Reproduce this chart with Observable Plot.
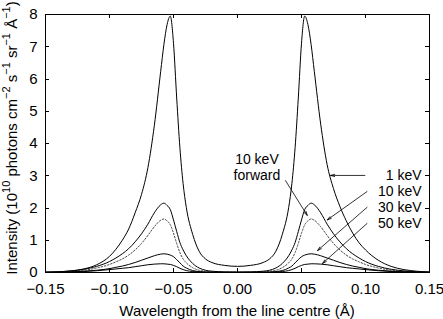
<!DOCTYPE html>
<html><head><meta charset="utf-8">
<script src="https://cdn.jsdelivr.net/npm/d3@7"></script>
<script src="https://cdn.jsdelivr.net/npm/@observablehq/plot@0.6"></script>
<style>body{margin:0;background:#fff}</style>
</head><body><div id="chart"></div>
<script>
const wavelength = [-0.15,-0.14,-0.13,-0.12,-0.11,-0.10,-0.095,-0.09,-0.085,-0.08,-0.075,-0.07,-0.065,-0.06,-0.0575,-0.055,-0.0525,-0.05,-0.0475,-0.045,-0.0425,-0.04,-0.035,-0.03,-0.025,-0.02,-0.01,0,
  0.01,0.02,0.025,0.03,0.035,0.04,0.0425,0.045,0.0475,0.05,0.0525,0.055,0.0575,0.06,0.065,0.07,0.075,0.08,0.085,0.09,0.095,0.10,0.11,0.12,0.13,0.14,0.15];
const keV1 = [0.01,0.02,0.05,0.11,0.24,0.50,0.72,1.0,1.35,1.85,2.42,3.25,4.55,6.24,7.07,7.69,7.95,7.11,5.41,3.87,2.76,2.02,1.18,0.66,0.42,0.31,0.22,0.19,
  0.22,0.31,0.42,0.66,1.18,2.02,2.76,3.87,5.41,7.11,7.95,7.69,7.07,6.24,4.6,3.35,2.6,2.05,1.6,1.22,0.92,0.7,0.38,0.19,0.09,0.04,0.015];
const keV10 = [0.01,0.02,0.05,0.10,0.19,0.34,0.45,0.58,0.74,0.95,1.2,1.5,1.85,2.1,2.15,2.08,1.95,1.63,1.27,0.93,0.7,0.52,0.28,0.14,0.07,0.04,0.02,0.015,
  0.02,0.04,0.07,0.14,0.28,0.52,0.7,0.93,1.27,1.63,1.95,2.08,2.15,2.1,1.85,1.5,1.2,0.95,0.74,0.58,0.45,0.34,0.19,0.10,0.05,0.02,0.01];
const keV10forward = [0.005,0.015,0.035,0.07,0.14,0.25,0.33,0.42,0.54,0.7,0.9,1.15,1.42,1.62,1.66,1.6,1.48,1.22,0.9,0.62,0.42,0.3,0.15,0.07,0.04,0.02,0.01,0.01,
  0.01,0.02,0.04,0.07,0.15,0.3,0.42,0.62,0.9,1.22,1.48,1.6,1.66,1.62,1.42,1.15,0.9,0.7,0.54,0.42,0.33,0.25,0.14,0.07,0.035,0.015,0.005];
const keV30 = [0.005,0.01,0.02,0.04,0.07,0.12,0.16,0.2,0.25,0.31,0.38,0.45,0.52,0.57,0.58,0.57,0.54,0.49,0.4,0.3,0.2,0.14,0.06,0.03,0.015,0.01,0.005,0.005,
  0.005,0.01,0.015,0.03,0.06,0.14,0.2,0.3,0.4,0.49,0.54,0.57,0.58,0.57,0.52,0.45,0.38,0.31,0.25,0.2,0.16,0.12,0.07,0.04,0.02,0.01,0.005];
const keV50 = [0.004,0.008,0.015,0.03,0.055,0.09,0.11,0.13,0.15,0.18,0.21,0.24,0.26,0.27,0.27,0.26,0.25,0.22,0.18,0.13,0.09,0.06,0.03,0.015,0.008,0.005,0.003,0.003,
  0.003,0.005,0.008,0.015,0.03,0.06,0.09,0.13,0.18,0.22,0.25,0.26,0.27,0.27,0.26,0.24,0.21,0.18,0.15,0.13,0.11,0.09,0.055,0.03,0.015,0.008,0.004];

const xTicks = [-0.15,-0.10,-0.05,0,0.05,0.10,0.15];
const yTicks = [0,1,2,3,4,5,6,7,8];
const energyLabels = ["1 keV","10 keV","30 keV","50 keV"];
const energyLabelY = [3.01,2.51,2.02,1.52];
const energyLabelX = 0.1438;
const arrowX1 = [0.0995,0.1012,0.1012,0.1012,0.0375];
const arrowY1 = [3.01,2.51,2.02,1.52,2.85];
const arrowX2 = [0.0727,0.0701,0.0625,0.0664,0.0545];
const arrowY2 = [3.01,1.63,0.68,0.28,1.77];
const forwardLines = ["10 keV","forward"];
const forwardX = 0.0152;
const forwardY = [3.50,3.01];

const solid = [keV1, keV10, keV30, keV50].flatMap((vals, k) =>
  wavelength.map((x, i) => ({x, y: vals[i], s: k})));
const dotted = wavelength.map((x, i) => ({x, y: keV10forward[i]}));
const arrows = arrowX1.map((x1, i) => ({x1, y1: arrowY1[i], x2: arrowX2[i], y2: arrowY2[i]}));
const labels = energyLabels.map((t, i) => ({t, x: energyLabelX, y: energyLabelY[i]}));
const flabels = forwardLines.map((t, i) => ({t, x: forwardX, y: forwardY[i]}));

function inwardTicks(index, scales, values, dim) {
  const g = d3.create("svg:g").attr("stroke", "black").attr("stroke-width", 1);
  const L = dim.marginLeft, R = dim.width - dim.marginRight, T = dim.marginTop, B = dim.height - dim.marginBottom;
  for (const t of xTicks) {
    const px = Math.round(scales.x(t)) + 0.5;
    g.append("line").attr("x1", px).attr("x2", px).attr("y1", B).attr("y2", B - 4);
    g.append("line").attr("x1", px).attr("x2", px).attr("y1", T).attr("y2", T + 4);
  }
  for (const t of yTicks) {
    const py = Math.round(scales.y(t)) + 0.5;
    g.append("line").attr("y1", py).attr("y2", py).attr("x1", L).attr("x2", L + 4);
    g.append("line").attr("y1", py).attr("y2", py).attr("x1", R).attr("x2", R - 4);
  }
  return g.node();
}

const font = "Liberation Sans, Arial, Helvetica, sans-serif";
const chart = Plot.plot({
  width: 443, height: 319,
  marginLeft: 45, marginRight: 14, marginTop: 14, marginBottom: 47,
  style: {fontFamily: font, fontSize: "15px", background: "white", color: "black"},
  x: {domain: [-0.15, 0.15]},
  y: {domain: [0, 8]},
  marks: [
    Plot.line(dotted, {x: "x", y: "y", stroke: "#444", strokeWidth: 1, strokeDasharray: "1.5,1.8", curve: "monotone-x"}),
    Plot.line(solid, {x: "x", y: "y", z: "s", stroke: "black", strokeWidth: 1, curve: "monotone-x"}),
    Plot.arrow(arrows, {x1: "x1", y1: "y1", x2: "x2", y2: "y2", stroke: "black", strokeWidth: 0.8, headLength: 8, headAngle: 30}),
    Plot.text(labels, {x: "x", y: "y", text: "t", textAnchor: "end", fontSize: 14, fill: "black"}),
    Plot.text(flabels, {x: "x", y: "y", text: "t", textAnchor: "middle", fontSize: 14, fill: "black"}),
    Plot.frame({stroke: "black"}),
    inwardTicks,
    Plot.axisX({ticks: xTicks, tickSize: 0, tickPadding: 11, tickFormat: d3.format(".2f"), label: null, fontSize: 15}),
    Plot.axisY({ticks: yTicks, tickSize: 0, tickPadding: 8, tickFormat: d3.format("d"), label: null, fontSize: 15})
  ]
});

const svg = d3.select(chart);
svg.append("text").attr("x", 237).attr("y", 316).attr("text-anchor", "middle")
  .attr("font-family", font).attr("font-size", 15).attr("fill", "black")
  .text("Wavelength from the line centre (Å)");
const yl = svg.append("text").attr("transform", "translate(17,138) rotate(-90)").attr("text-anchor", "middle")
  .attr("font-family", font).attr("font-size", 15).attr("fill", "black");
const parts = [["Intensity (10", 0], ["10", 1], [" photons cm", 0], ["−2", 1], [" s", 0], ["−1", 1], [" sr", 0], ["−1", 1], [" Å", 0], ["−1", 1], [")", 0]];
for (const [t, sup] of parts) {
  const ts = yl.append("tspan").text(t);
  if (sup) ts.attr("font-size", 11).attr("dy", "-0.6em");
  else if (t !== "Intensity (10") ts.attr("dy", "0.44em");
}
document.getElementById("chart").appendChild(chart);
</script>
</body></html>
